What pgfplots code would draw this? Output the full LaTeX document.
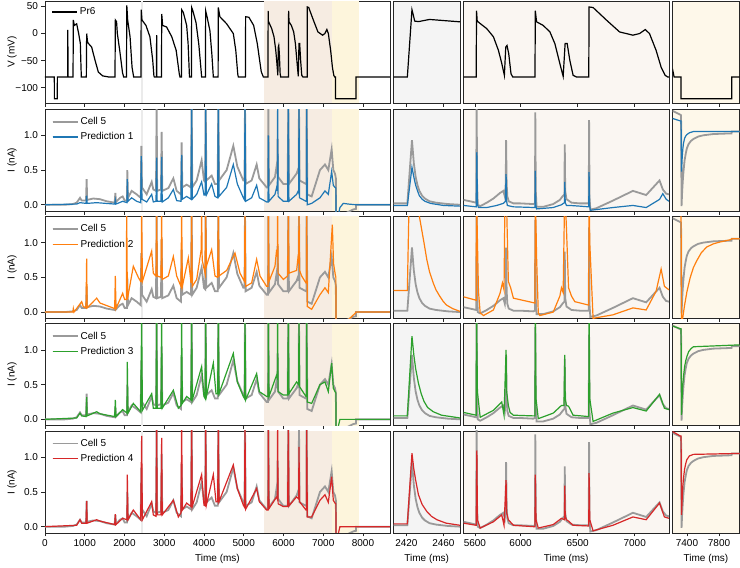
\documentclass[border=0pt]{standalone}
\usepackage{fontspec}
\setmainfont{Liberation Sans}
\usepackage{pgfplots}
\usepackage{pgfplotstable}
\pgfplotsset{compat=1.18}

\definecolor{cellgray}{HTML}{9A9A9A}
\definecolor{tabblue}{HTML}{1F77B4}
\definecolor{taborange}{HTML}{FF7F0E}
\definecolor{tabgreen}{HTML}{2CA02C}
\definecolor{tabred}{HTML}{D62728}
\definecolor{bandG}{HTML}{EBEBEB}
\definecolor{bandO}{HTML}{F6ECE2}
\definecolor{bandY}{HTML}{FDF5DC}
\definecolor{panG}{HTML}{F4F4F4}
\definecolor{panO}{HTML}{FAF6F2}
\definecolor{panY}{HTML}{FEF8EA}

% voltage protocol, main view
\pgfplotstableread{
t v
0 -80
235 -80
236 -120
310 -120
311 -80
570 -80
574 7
580 -80
705 -80
713 25
738 15
797 18
847 0
889 -18
905 -60
914 -80
1040 -80
1048 0
1070 -15
1090 -18
1174 -25
1258 -49
1342 -71
1450 -78
1600 -80
1761 -80
1770 25
1800 22
1820 0
1880 -31
1950 -72
1979 -80
2050 -80
2058 52
2080 25
2140 -6
2190 -62
2231 -80
2413 -80
2420 44
2440 25
2540 15
2640 -6
2710 -49
2740 -78
2751 -80
2803 -80
2809 -3
2815 -80
2930 -80
2937 36
2960 15
3060 12
3190 -6
3300 -31
3380 -75
3396 -80
3432 -80
3438 44
3480 39
3564 15
3600 -18
3625 -62
3635 -80
3684 -80
3690 48
3720 42
3800 20
3870 -20
3920 -62
3941 -80
4036 -80
4042 42
4080 30
4150 5
4200 -40
4235 -80
4355 -80
4361 48
4400 31
4570 18
4738 0
4800 -31
4850 -75
4864 -80
5042 -80
5048 31
5130 30
5250 15
5340 -18
5440 -70
5493 -80
5611 -80
5614 42
5620 23
5646 18.5
5704 9
5762 -6
5806 -31
5835 -55
5858 -77
5870 -25
5881 -22
5896 -37
5916 -74
5931 -80
6126 -80
6129 42
6140 21.6
6198 15
6257 3
6300 -18.5
6344 -55.5
6373 -79
6390 -18.5
6408 -18.5
6431 -49
6460 -77
6489 -80
6597 -80
6600 49
6635 48
6751 25
6867 3
6984 -3
7042 0
7092 7.4
7129 0
7187 -31
7231 -62
7266 -77
7289 -80
7310 -80
7311 -120
7824 -120
7825 -80
8680 -80
}\voltA

% recorded current, main view
\pgfplotstableread{
t i
0 0
500 0
700 0.01
797 0.03
881 0.1
923 0.06
1032 0.06
1048 0.37
1060 0.07
1216 0.09
1384 0.08
1551 0.05
1753 0.03
1770 0.17
1786 0.04
1887 0.1
1954 0.12
2004 0.06
2063 0.06
2071 0.5
2088 0.1
2180 0.2
2306 0.15
2407 0.1
2424 0.85
2440 0.25
2558 0.15
2684 0.33
2725 0.22
2793 0.2
2809 1.5
2822 0.2
2918 0.22
2935 1.05
2950 0.2
3103 0.24
3229 0.38
3313 0.2
3421 0.15
3438 0.9
3455 0.25
3564 0.29
3673 0.25
3690 1.5
3705 0.25
3816 0.35
3941 0.64
4000 0.35
4030 0.33
4042 1.5
4060 0.35
4193 0.42
4277 0.3
4344 0.3
4361 1.5
4378 0.35
4570 0.5
4738 0.85
4839 0.55
4990 0.35
5020 0.35
5032 1.5
5048 0.3
5199 0.35
5325 0.58
5392 0.38
5577 0.25
5612 0.25
5619 1.5
5635 0.28
5786 0.4
5828 0.56
5845 0.45
5853 0.95
5865 0.4
5996 0.3
6105 0.3
6122 1.5
6137 0.3
6331 0.45
6373 0.52
6382 0.45
6390 1.5
6405 0.35
6566 0.3
6578 0.3
6583 1.5
6600 0.15
6709 0.12
6918 0.5
7044 0.58
7128 0.5
7212 0.8
7254 0.5
7296 0.45
7318 0.38
7325 -0.6
7480 -0.25
7506 -0.16
7590 -0.115
7760 -0.067
7822 -0.06
7826 0
8680 0
}\cellA

\pgfplotstableread{
t i
2406 0.02
2421 0.02
2426 0.93
2428 0.6
2430 0.4
2432 0.28
2434 0.2
2437 0.13
2440 0.09
2445 0.05
2452 0.03
2465 0.01
2478 0.0
}\cellB

\pgfplotstableread{
t i
5500 0.07
5558 0.05
5611 0.03
5615 1.6
5619 0.3
5625 0.0
5646 -0.02
5704 0.03
5762 0.09
5820 0.17
5849 0.2
5862 0.12
5870 0.3
5873 0.93
5878 0.3
5884 0.12
5896 0.05
5937 0.02
5995 0.02
6111 0.01
6126 0.02
6129 1.33
6133 0.2
6140 -0.03
6198 -0.03
6286 0.01
6344 0.07
6367 0.12
6384 0.15
6387 0.87
6391 0.2
6402 0.08
6420 0.06
6446 0.03
6518 0.02
6597 0.02
6600 1.22
6604 0.1
6611 -0.07
6664 -0.05
6809 0.06
6984 0.2
7100 0.14
7217 0.35
7246 0.22
7275 0.16
7300 0.15
}\cellC

\pgfplotstableread{
t i
7219 0.33
7314 0.27
7326 0.26
7332 -1.19
7340 -0.95
7348 -0.78
7356 -0.64
7370 -0.46
7385 -0.35
7398 -0.27
7420 -0.2
7450 -0.15
7480 -0.12
7540 -0.08
7605 -0.06
7730 -0.04
7939 -0.03
7956 -0.03
7960 0.0
8056 0.0
}\cellD

\pgfplotsset{
  legend image code/.code={\path (0pt,0pt) -- (25pt,0pt); \draw[#1] (0pt,0pt) -- (22pt,0pt);},
  pan/.style={scale only axis, anchor=north west, height=102pt,
    axis line style={line width=0.8pt, draw=black!85},
    every tick/.style={line width=0.8pt, black!85},
    tick align=outside, major tick length=3.5pt,
    xtick pos=lower, ytick pos=left,
    tick label style={font=\fontsize{10}{12}\selectfont},
    label style={font=\fontsize{10}{12}\selectfont},
    /pgf/number format/assume math mode=true,
    every axis y label/.style={at={(axis description cs:-0.0957,0.5)}, rotate=90, anchor=center},
    legend style={draw=none, fill=none, at={(0.0104,0.96)}, anchor=north west,
      font=\fontsize{10}{12}\selectfont, row sep=2.5pt},
    legend cell align=left},
  vy/.style={ymin=-128, ymax=60},
  iy/.style={ymin=-0.09, ymax=1.38},
  jy/.style={ymin=-1.27, ymax=0.36},
  cA/.style={width=345pt, xmin=0, xmax=8680, xtick={0,1000,...,8000}, xticklabels={}},
  cB/.style={width=66.5pt, xmin=2406, xmax=2478, xtick={2420,2460}, xticklabels={}, ytick=\empty, axis background/.style={fill=panG}},
  cC/.style={width=205.5pt, xmin=5500, xmax=7300, xtick={5600,6000,6500,7000}, xticklabels={}, ytick=\empty, axis background/.style={fill=panO}},
  cD/.style={width=67pt, xmin=7219, xmax=8056, xtick={7400,7800}, xticklabels={}, ytick=\empty, axis background/.style={fill=panY}},
  ilab/.style={ytick={0,0.5,1}, yticklabels={0.0,0.5,1.0}, ylabel={I (nA)}},
  cellline/.style={cellgray, line width=1.8pt},
  pline/.style={line width=1.2pt},
}

\newcommand{\bands}{%
  \fill[bandG] ({axis cs:2406,0}|-{rel axis cs:0,0}) rectangle ({axis cs:2478,0}|-{rel axis cs:0,1});
  \fill[bandO] ({axis cs:5500,0}|-{rel axis cs:0,0}) rectangle ({axis cs:7224,0}|-{rel axis cs:0,1});
  \fill[bandY] ({axis cs:7224,0}|-{rel axis cs:0,0}) rectangle ({axis cs:7903,0}|-{rel axis cs:0,1});
}

\begin{document}
\begin{tikzpicture}
\useasboundingbox (0pt,0pt) rectangle (740pt,-568pt);

% ---------------- row 1: voltage
\begin{axis}[pan, cA, vy, at={(45pt,-1pt)}, ytick={-100,-50,0,50}, yticklabels={−100,−50,0,50}, ylabel={V (mV)},
  legend style={at={(0.0104,0.975)}}]
  \bands
  \addplot[black, line width=1.2pt] table[x=t, y=v] {\voltA};
  \addlegendentry{Pr6}
\end{axis}
\begin{axis}[pan, cB, vy, at={(393.5pt,-1pt)}]
  \addplot[black, line width=1.2pt] coordinates {(2406,-80) (2421,-80) (2426,44) (2429,23) (2433,22) (2445,26) (2478,21.6)};
\end{axis}
\begin{axis}[pan, cC, vy, at={(463.5pt,-1pt)}]
  \addplot[black, line width=1.2pt] table[x=t, y=v] {\voltA};
\end{axis}
\begin{axis}[pan, cD, vy, at={(672.5pt,-1pt)}]
  \addplot[black, line width=1.2pt] coordinates {(7219,-65) (7239,-80) (7325,-80) (7326,-120) (7958,-120) (7960,-80) (8056,-80)};
\end{axis}

% ---------------- row 2: prediction 1
\begin{axis}[pan, cA, iy, ilab, at={(45pt,-109pt)}]
  \bands
  \addplot[cellline] table[x=t, y=i] {\cellA};
  \addlegendentry{Cell 5}
  \addplot[tabblue, pline] coordinates {
    (0,0) (797,0.01) (881,0.03) (1032,0.02) (1048,0.13) (1060,0.02) (1300,0.03) (1753,0.01) (1770,0.07) (1786,0.01)
    (1954,0.05) (2063,0.03) (2071,0.37) (2088,0.05) (2180,0.1) (2306,0.05) (2407,0.03) (2424,0.7) (2440,0.08)
    (2558,0.04) (2684,0.15) (2725,0.04) (2793,0.05) (2809,0.68) (2822,0.05) (2918,0.05) (2935,0.69) (2950,0.04)
    (3103,0.1) (3229,0.22) (3313,0.06) (3421,0.05) (3438,0.72) (3455,0.08) (3564,0.12) (3673,0.08) (3690,1.5) (3705,0.08)
    (3816,0.15) (3941,0.33) (4000,0.14) (4030,0.14) (4042,1.5) (4060,0.14) (4193,0.3) (4277,0.12) (4344,0.1) (4361,1.5)
    (4378,0.12) (4570,0.25) (4738,0.58) (4839,0.3) (4990,0.1) (5020,0.07) (5032,1.5) (5048,0.05) (5199,0.1) (5325,0.28)
    (5392,0.1) (5577,0.04) (5612,0.04) (5619,1.0) (5635,0.05) (5786,0.15) (5828,0.25) (5845,0.2) (5853,1.5) (5865,0.12)
    (5996,0.05) (6105,0.05) (6122,1.5) (6137,0.05) (6331,0.15) (6373,0.2) (6382,0.18) (6390,1.5) (6405,0.1) (6566,0.05)
    (6578,0.05) (6583,1.5) (6600,0.0) (6709,0.02) (6918,0.1) (7044,0.2) (7128,0.15) (7212,0.48) (7254,0.28) (7296,0.25)
    (7318,0.24) (7325,-0.5) (7380,-0.15) (7420,-0.04) (7506,0.02) (7631,0.01) (7826,0.0) (8680,0.0)};
  \addlegendentry{Prediction 1}
\end{axis}
\begin{axis}[pan, cB, iy, at={(393.5pt,-109pt)}]
  \addplot[cellline] table[x=t, y=i] {\cellB};
  \addplot[tabblue, pline] coordinates {(2406,-0.01) (2421,-0.01) (2426,0.54) (2428,0.4) (2430,0.28) (2432,0.2) (2434,0.13) (2437,0.08) (2440,0.05) (2446,0.02) (2460,-0.01) (2478,-0.02)};
\end{axis}
\begin{axis}[pan, cC, iy, at={(463.5pt,-109pt)}]
  \addplot[cellline] table[x=t, y=i] {\cellC};
  \addplot[tabblue, pline] coordinates {
    (5500,-0.01) (5611,-0.03) (5617,0.76) (5622,0.0) (5631,-0.04) (5704,-0.04) (5791,-0.01) (5849,0.02) (5867,0.05)
    (5873,0.44) (5878,0.05) (5884,-0.01) (5937,-0.03) (6126,-0.04) (6129,0.49) (6133,0.0) (6140,-0.06) (6286,-0.04)
    (6358,0.0) (6384,0.03) (6387,0.33) (6391,0.03) (6402,-0.01) (6431,-0.01) (6518,-0.02) (6597,-0.03) (6600,0.47)
    (6604,0.0) (6611,-0.08) (6809,-0.04) (6984,-0.01) (7100,-0.04) (7217,0.077) (7246,0.16) (7275,0.08) (7300,0.05)};
\end{axis}
\begin{axis}[pan, cD, jy, at={(672.5pt,-109pt)}]
  \addplot[cellline] table[x=t, y=i] {\cellD};
  \addplot[tabblue, pline] coordinates {(7219,0.21) (7314,0.17) (7326,0.17) (7332,-0.64) (7340,-0.42) (7348,-0.28) (7356,-0.19) (7370,-0.11) (7385,-0.07) (7398,-0.05) (7430,-0.02) (7480,0.0) (8056,0.0)};
\end{axis}

% ---------------- row 3: prediction 2
\begin{axis}[pan, cA, iy, ilab, at={(45pt,-216.3pt)}]
  \bands
  \addplot[cellline] table[x=t, y=i] {\cellA};
  \addlegendentry{Cell 5}
  \addplot[taborange, pline] coordinates {
    (0,0) (700,0.0) (713,0.05) (730,0.0) (923,0.15) (963,0.08) (1032,0.06) (1048,0.77) (1060,0.06) (1300,0.2) (1384,0.13)
    (1753,0.05) (1770,0.52) (1786,0.05) (1954,0.27) (2004,0.18) (2047,0.18) (2055,1.5) (2072,0.18) (2222,0.66) (2348,0.5)
    (2407,0.44) (2420,0.44) (2432,1.5) (2450,0.44) (2684,0.88) (2725,0.56) (2793,0.52) (2809,1.5) (2822,0.52) (2918,0.5)
    (2935,1.5) (2950,0.47) (3103,0.52) (3229,0.8) (3313,0.52) (3421,0.37) (3438,1.5) (3455,0.37) (3606,0.78) (3673,0.42)
    (3690,1.5) (3705,0.37) (3816,0.47) (3930,0.9) (3941,1.5) (3955,0.75) (4030,0.55) (4042,1.5) (4060,0.66) (4193,0.9)
    (4277,0.52) (4344,0.5) (4361,1.5) (4378,0.52) (4570,0.6) (4780,0.85) (4906,0.56) (5020,0.44) (5032,1.5) (5048,0.37)
    (5199,0.42) (5325,0.76) (5409,0.52) (5577,0.37) (5612,0.37) (5619,1.5) (5635,0.44) (5786,0.66) (5828,0.9) (5845,0.8)
    (5853,1.5) (5865,0.56) (5996,0.47) (6105,0.52) (6122,1.5) (6137,0.56) (6331,0.6) (6373,0.83) (6382,0.7) (6390,1.5)
    (6405,0.6) (6457,0.52) (6566,0.42) (6578,0.42) (6583,1.5) (6600,0.08) (6709,0.04) (6918,0.25) (7044,0.35) (7128,0.28)
    (7229,1.26) (7260,0.7) (7300,0.55) (7318,0.5) (7325,-0.6) (7500,-0.3) (7650,-0.1) (7800,-0.02) (7826,0.0) (8680,0.0)};
  \addlegendentry{Prediction 2}
\end{axis}
\begin{axis}[pan, cB, iy, at={(393.5pt,-216.3pt)}]
  \addplot[cellline] table[x=t, y=i] {\cellB};
  \addplot[taborange, pline] coordinates {(2406,0.31) (2421,0.31) (2422,1.0) (2424,2.4) (2428,2.0) (2431,1.65) (2434,1.38) (2436.5,1.19) (2439,1.0) (2442,0.76) (2445,0.58) (2449,0.42) (2452,0.32) (2456,0.23) (2460,0.15) (2463.5,0.1) (2470,0.05) (2478,0.01)};
\end{axis}
\begin{axis}[pan, cC, iy, at={(463.5pt,-216.3pt)}]
  \addplot[cellline] table[x=t, y=i] {\cellC};
  \addplot[taborange, pline] coordinates {
    (5500,0.22) (5611,0.17) (5614,1.8) (5620,1.2) (5631,0.3) (5646,-0.01) (5675,-0.05) (5762,0.03) (5820,0.27) (5841,0.42)
    (5855,0.32) (5864,1.8) (5878,1.5) (5893,0.44) (5913,0.35) (5937,0.2) (6126,0.13) (6129,1.8) (6140,0.8) (6155,-0.01)
    (6169,-0.05) (6286,0.0) (6344,0.23) (6358,0.35) (6373,0.28) (6387,1.8) (6402,1.2) (6420,0.35) (6446,0.23) (6475,0.15)
    (6597,0.1) (6600,1.8) (6606,1.0) (6635,-0.09) (6809,-0.04) (6984,0.06) (7100,0.03) (7187,0.3) (7231,0.62) (7260,0.37) (7300,0.32)};
\end{axis}
\begin{axis}[pan, cD, jy, at={(672.5pt,-216.3pt)}]
  \addplot[cellline] table[x=t, y=i] {\cellD};
  \addplot[taborange, pline] coordinates {(7219,0.4) (7326,0.4) (7332,-1.6) (7345,-1.28) (7370,-1.06) (7400,-0.84) (7440,-0.62) (7480,-0.46) (7522,-0.35) (7580,-0.22) (7647,-0.13) (7730,-0.08) (7814,-0.05) (7939,-0.015) (7960,0.0) (8056,0.0)};
\end{axis}

% ---------------- row 4: prediction 3
\begin{axis}[pan, cA, iy, ilab, at={(45pt,-323.6pt)}]
  \bands
  \addplot[cellline] table[x=t, y=i] {\cellA};
  \addlegendentry{Cell 5}
  \addplot[tabgreen, pline] coordinates {
    (0,0) (797,0.02) (881,0.09) (923,0.05) (1032,0.04) (1048,0.32) (1060,0.05) (1300,0.11) (1384,0.08) (1753,0.04)
    (1770,0.28) (1786,0.04) (1954,0.14) (2063,0.09) (2071,0.83) (2088,0.09) (2222,0.23) (2407,0.11) (2432,1.5) (2450,0.13)
    (2684,0.37) (2725,0.16) (2793,0.16) (2809,1.5) (2822,0.16) (2918,0.16) (2935,1.5) (2950,0.16) (3229,0.42) (3355,0.16)
    (3421,0.2) (3438,1.5) (3455,0.23) (3564,0.33) (3673,0.28) (3690,1.5) (3705,0.28) (3941,0.76) (4000,0.33) (4030,0.3)
    (4042,1.5) (4060,0.33) (4235,0.81) (4302,0.37) (4344,0.37) (4361,1.5) (4378,0.37) (4738,0.95) (4839,0.54) (4990,0.33)
    (5020,0.3) (5032,1.5) (5048,0.28) (5325,0.66) (5392,0.4) (5577,0.33) (5612,0.33) (5619,1.5) (5635,0.33) (5828,0.64)
    (5845,0.6) (5853,1.5) (5865,0.4) (5996,0.35) (6105,0.35) (6122,1.5) (6137,0.37) (6331,0.54) (6382,0.5) (6390,1.5)
    (6405,0.47) (6566,0.33) (6578,0.33) (6583,1.5) (6600,0.25) (6709,0.23) (6918,0.5) (7044,0.54) (7128,0.4) (7212,0.81)
    (7254,0.45) (7296,0.4) (7318,0.38) (7325,-0.6) (7380,-0.1) (7420,0.0) (8680,0.0)};
  \addlegendentry{Prediction 3}
\end{axis}
\begin{axis}[pan, cB, iy, at={(393.5pt,-323.6pt)}]
  \addplot[cellline] table[x=t, y=i] {\cellB};
  \addplot[tabgreen, pline] coordinates {(2406,0.05) (2421,0.05) (2426,1.2) (2428,0.93) (2430,0.73) (2433,0.52) (2436,0.37) (2439,0.26) (2443,0.17) (2449,0.11) (2458,0.06) (2478,0.02)};
\end{axis}
\begin{axis}[pan, cC, iy, at={(463.5pt,-323.6pt)}]
  \addplot[cellline] table[x=t, y=i] {\cellC};
  \addplot[tabgreen, pline] coordinates {
    (5500,0.1) (5611,0.06) (5614,1.6) (5622,0.4) (5646,0.03) (5762,0.13) (5835,0.25) (5855,0.06) (5873,1.0) (5878,0.4)
    (5893,0.2) (5908,0.1) (5937,0.06) (6111,0.05) (6126,0.05) (6129,1.6) (6135,0.3) (6155,0.01) (6286,0.09) (6358,0.2)
    (6380,0.2) (6387,0.93) (6391,0.3) (6402,0.2) (6420,0.19) (6460,0.06) (6597,0.04) (6600,1.6) (6606,0.3) (6635,-0.03)
    (6809,0.09) (6984,0.17) (7100,0.12) (7217,0.36) (7260,0.16) (7300,0.14)};
\end{axis}
\begin{axis}[pan, cD, jy, at={(672.5pt,-323.6pt)}]
  \addplot[cellline] table[x=t, y=i] {\cellD};
  \addplot[tabgreen, pline] coordinates {(7219,0.32) (7314,0.28) (7326,0.28) (7332,-1.1) (7340,-0.8) (7348,-0.6) (7356,-0.49) (7370,-0.33) (7385,-0.23) (7398,-0.17) (7420,-0.09) (7450,-0.04) (7480,-0.01) (8056,0.02)};
\end{axis}

% ---------------- row 5: prediction 4
\begin{axis}[pan, cA, iy, ilab, at={(45pt,-430.9pt)}, xticklabels={0,1000,2000,3000,4000,5000,6000,7000,8000}, xlabel={Time (ms)}]
  \bands
  \addplot[cellline] table[x=t, y=i] {\cellA};
  \addlegendentry{Cell 5}
  \addplot[tabred, pline] coordinates {
    (0,0) (797,0.02) (881,0.1) (923,0.05) (1032,0.05) (1048,0.37) (1060,0.05) (1300,0.1) (1384,0.08) (1753,0.03)
    (1770,0.18) (1786,0.03) (1954,0.12) (2063,0.1) (2071,0.75) (2088,0.1) (2222,0.24) (2407,0.1) (2432,1.31) (2450,0.1)
    (2684,0.36) (2725,0.17) (2793,0.15) (2809,1.5) (2822,0.17) (2918,0.17) (2935,1.28) (2950,0.17) (3229,0.38) (3355,0.14)
    (3421,0.2) (3438,1.5) (3455,0.24) (3564,0.34) (3673,0.29) (3690,1.5) (3705,0.29) (3941,0.75) (4000,0.31) (4030,0.3)
    (4042,1.5) (4060,0.31) (4235,0.75) (4302,0.36) (4344,0.36) (4361,1.5) (4378,0.36) (4738,0.89) (4839,0.55) (4990,0.31)
    (5020,0.28) (5032,1.5) (5048,0.25) (5325,0.55) (5392,0.36) (5577,0.24) (5612,0.24) (5619,1.5) (5635,0.26) (5828,0.43)
    (5845,0.4) (5853,1.5) (5865,0.33) (5996,0.29) (6105,0.29) (6122,1.5) (6137,0.3) (6331,0.43) (6382,0.4) (6390,1.15)
    (6405,0.36) (6566,0.24) (6578,0.24) (6583,1.5) (6600,0.14) (6709,0.14) (6918,0.38) (7044,0.46) (7128,0.35) (7212,0.72)
    (7254,0.38) (7296,0.34) (7318,0.33) (7325,-0.6) (7380,-0.1) (7420,0.0) (8680,0.0)};
  \addlegendentry{Prediction 4}
\end{axis}
\begin{axis}[pan, cB, iy, at={(393.5pt,-430.9pt)}, xticklabels={2420,2460}, xlabel={Time (ms)}]
  \addplot[cellline] table[x=t, y=i] {\cellB};
  \addplot[tabred, pline] coordinates {(2406,0.04) (2421,0.04) (2426,1.06) (2428,0.83) (2430,0.67) (2433,0.46) (2437,0.32) (2442,0.22) (2447,0.15) (2453,0.1) (2463,0.05) (2478,0.02)};
\end{axis}
\begin{axis}[pan, cC, iy, at={(463.5pt,-430.9pt)}, xticklabels={5600,6000,6500,7000}, xlabel={Time (ms)}]
  \addplot[cellline] table[x=t, y=i] {\cellC};
  \addplot[tabred, pline] coordinates {
    (5500,0.05) (5611,0.02) (5617,1.1) (5622,0.1) (5646,-0.02) (5762,0.07) (5835,0.17) (5855,0.02) (5873,0.67) (5878,0.2)
    (5893,0.1) (5937,0.02) (6111,0.0) (6126,0.0) (6129,0.75) (6135,0.1) (6155,-0.02) (6286,0.03) (6358,0.12) (6384,0.1)
    (6387,0.59) (6391,0.15) (6402,0.1) (6420,0.08) (6460,0.02) (6597,0.01) (6600,0.77) (6606,0.1) (6635,-0.06) (6809,0.02)
    (6984,0.14) (7100,0.1) (7217,0.34) (7260,0.14) (7300,0.12)};
\end{axis}
\begin{axis}[pan, cD, jy, at={(672.5pt,-430.9pt)}, xticklabels={7400,7800}, xlabel={Time (ms)}]
  \addplot[cellline] table[x=t, y=i] {\cellD};
  \addplot[tabred, pline] coordinates {(7219,0.35) (7314,0.28) (7326,0.28) (7332,-0.98) (7340,-0.72) (7348,-0.52) (7356,-0.4) (7370,-0.25) (7385,-0.16) (7398,-0.1) (7430,-0.04) (7480,-0.015) (8056,0.0)};
\end{axis}
\end{tikzpicture}
\end{document}
